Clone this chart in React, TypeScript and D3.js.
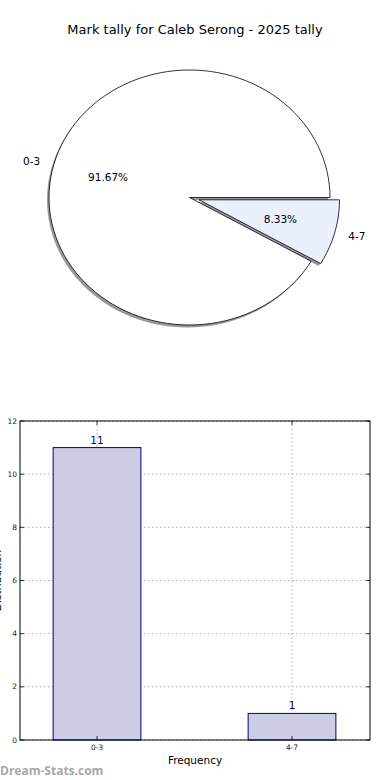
import React from "react";
import * as d3 from "d3";

const categories = ["0-3", "4-7"];
const counts = [11, 1];
const yTicks = [0, 2, 4, 6, 8, 10, 12];
const titleText = "Mark tally for Caleb Serong - 2025 tally";
const sliceColors = ["#ffffff", "#eaf0fd"];
const explodes = [0, 0.07];

const FONT = "DejaVu Sans, Verdana, sans-serif";

function ellipseSlicePath(cx: number, cy: number, rx: number, ry: number, a0: number, a1: number, steps = 120) {
  const pts: [number, number][] = [[cx, cy]];
  const n = Math.max(2, Math.ceil(((a1 - a0) / 360) * steps));
  for (let i = 0; i <= n; i++) {
    const a = ((a0 + ((a1 - a0) * i) / n) * Math.PI) / 180;
    pts.push([cx + rx * Math.cos(a), cy - ry * Math.sin(a)]);
  }
  const line = d3.line();
  return line(pts)! + "Z";
}

function Pie() {
  const cx = 189.5, cy = 197.5, rx = 140.5, ry = 127.5;
  const total = d3.sum(counts);
  const pieGen = d3.pie<number>().sort(null).value((d) => d).startAngle(0).endAngle(2 * Math.PI);
  const arcs = pieGen(counts);
  const sdx = -2, sdy = 2.5;
  return (
    <g>
      {arcs.map((a, i) => {
        const a0 = (a.startAngle * 180) / Math.PI;
        const a1 = (a.endAngle * 180) / Math.PI;
        const mid = ((a0 + a1) / 2) * Math.PI / 180;
        const ox = cx + explodes[i] * rx * Math.cos(mid);
        const oy = cy - explodes[i] * ry * Math.sin(mid);
        return (
          <path key={"s" + i} d={ellipseSlicePath(ox + sdx, oy + sdy, rx, ry, a0, a1)} fill="#808080" fillOpacity={0.8} stroke="none" />
        );
      })}
      {arcs.map((a, i) => {
        const a0 = (a.startAngle * 180) / Math.PI;
        const a1 = (a.endAngle * 180) / Math.PI;
        const mid = ((a0 + a1) / 2) * Math.PI / 180;
        const ox = cx + explodes[i] * rx * Math.cos(mid);
        const oy = cy - explodes[i] * ry * Math.sin(mid);
        const lx = ox + 1.1 * rx * Math.cos(mid);
        const ly = oy - 1.1 * ry * Math.sin(mid);
        const px = ox + 0.6 * rx * Math.cos(mid);
        const py = oy - 0.6 * ry * Math.sin(mid);
        const pct = ((counts[i] / total) * 100).toFixed(2) + "%";
        return (
          <g key={"p" + i}>
            <path d={ellipseSlicePath(ox, oy, rx, ry, a0, a1)} fill={sliceColors[i]} stroke="#000" strokeWidth={0.8} strokeLinejoin="round" />
            <text x={lx} y={ly} dy="0.35em" fontSize={10.5} textAnchor={Math.cos(mid) < 0 ? "end" : "start"} fontFamily={FONT}>{categories[i]}</text>
            <text x={px} y={py} dy="0.35em" fontSize={10.5} textAnchor="middle" fontFamily={FONT}>{pct}</text>
          </g>
        );
      })}
    </g>
  );
}

function Bars() {
  const left = 20, right = 370, top = 421, bottom = 740;
  const x = d3.scaleLinear().domain([-0.395, 1.4]).range([left, right]);
  const y = d3.scaleLinear().domain([0, 12]).range([bottom, top]);
  const bw = 0.45;
  return (
    <g fontFamily={FONT}>
      {yTicks.map((t) => (
        <g key={"gy" + t}>
          <line x1={left} x2={right} y1={y(t)} y2={y(t)} stroke="#b0b0b0" strokeDasharray="1.5,2.5" strokeWidth={1} />
          <line x1={left} x2={left + 4} y1={y(t)} y2={y(t)} stroke="#000" strokeWidth={0.8} />
          <line x1={right - 4} x2={right} y1={y(t)} y2={y(t)} stroke="#000" strokeWidth={0.8} />
          <text x={left - 3} y={y(t)} dy="0.35em" textAnchor="end" fontSize={7.5} fill="#222">{t}</text>
        </g>
      ))}
      {categories.map((c, i) => (
        <line key={"gx" + i} x1={x(i)} x2={x(i)} y1={top} y2={bottom} stroke="#b0b0b0" strokeDasharray="1.5,2.5" strokeWidth={1} />
      ))}
      {counts.map((v, i) => (
        <g key={"b" + i}>
          <rect x={x(i - bw / 2)} y={y(v)} width={x(bw) - x(0)} height={y(0) - y(v)} fill="#ccccE5" stroke="#00007a" strokeWidth={1} />
          <text x={x(i)} y={y(v) - 4} textAnchor="middle" fontSize={10.5} fill="#00007a">{v}</text>
        </g>
      ))}
      {categories.map((c, i) => (
        <g key={"xt" + i}>
          <line x1={x(i)} x2={x(i)} y1={bottom} y2={bottom - 4} stroke="#000" strokeWidth={0.8} />
          <line x1={x(i)} x2={x(i)} y1={top} y2={top + 4} stroke="#000" strokeWidth={0.8} />
          <text x={x(i)} y={bottom + 10} textAnchor="middle" fontSize={7.5} fill="#222">{c}</text>
        </g>
      ))}
      <rect x={left} y={top} width={right - left} height={bottom - top} fill="none" stroke="#000" strokeWidth={1} />
      <text x={(left + right) / 2} y={764} textAnchor="middle" fontSize={10.5}>Frequency</text>
      <text transform={`translate(1,${(top + bottom) / 2}) rotate(-90)`} textAnchor="middle" fontSize={10.5}>Distribution</text>
    </g>
  );
}

export default function App() {
  return (
    <svg width={390} height={780} style={{ position: "absolute", left: 0, top: 0, background: "#fff" }}>
      <rect width={390} height={780} fill="#fff" />
      <text x={195} y={34} textAnchor="middle" fontSize={13} fontFamily={FONT}>{titleText}</text>
      <Pie />
      <Bars />
      <text x={0} y={775} fontSize={12} fontWeight="bold" fill="#a8a8a8" fontFamily="Open Sans, DejaVu Sans, sans-serif">Dream-Stats.com</text>
    </svg>
  );
}
